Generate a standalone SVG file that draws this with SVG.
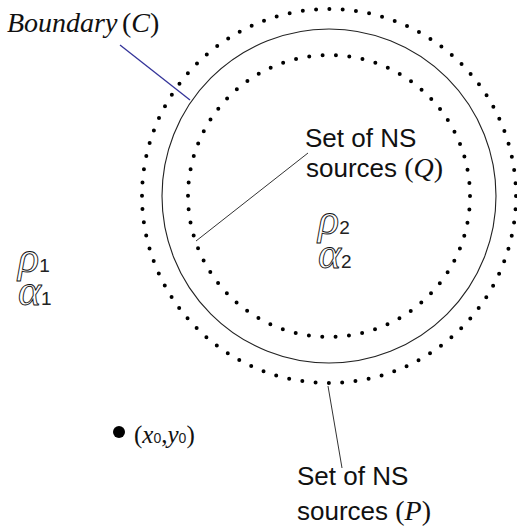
<svg xmlns="http://www.w3.org/2000/svg" width="517" height="531" viewBox="0 0 517 531">
<style>
.serif{font-family:"Liberation Serif","Times New Roman",serif;fill:#111}
.it{font-style:italic}
.sans{font-family:"Liberation Sans",Arial,sans-serif;fill:#111}
.greek{font-family:"Liberation Serif","Times New Roman",serif;font-style:italic;fill:none;stroke:#111;stroke-width:0.9}
.sub{font-family:"Liberation Sans",Arial,sans-serif;font-style:normal;fill:#222;stroke:none}
.dots{fill:none;stroke:#000;stroke-width:4;stroke-linecap:round}
.lead{fill:none;stroke:#333;stroke-width:1}
</style>
<rect width="517" height="531" fill="#fff"/>
<g id="outer-sources">
<circle class="dots" cx="329" cy="196" r="187" stroke-dasharray="0 13.352"/>
</g>
<g id="boundary">
<circle cx="329" cy="196" r="167" fill="none" stroke="#222" stroke-width="1.1"/>
</g>
<g id="inner-sources">
<circle class="dots" cx="329" cy="196" r="141" stroke-dasharray="0 13.423"/>
</g>
<g id="connectors">
<line x1="120" y1="45" x2="190" y2="100" stroke="#333399" stroke-width="1.3"/>
<line class="lead" x1="196" y1="241" x2="308" y2="153"/>
<line class="lead" x1="328" y1="386" x2="342" y2="468"/>
</g>
<g id="label-boundary">
<text class="serif it" x="7" y="32" font-size="28">Boundary<tspan x="122" font-style="normal">(</tspan>C<tspan font-style="normal">)</tspan></text>
</g>
<g id="label-q">
<text class="sans" x="305" y="147" font-size="26">Set of NS</text>
<text class="sans" x="306" y="177" font-size="26">sources <tspan class="serif" font-size="28">(</tspan><tspan class="serif it" font-size="28">Q</tspan><tspan class="serif" font-size="28">)</tspan></text>
</g>
<g id="label-p">
<text class="sans" x="297" y="485" font-size="26">Set of NS</text>
<text class="sans" x="297" y="520" font-size="26">sources <tspan class="serif" font-size="28">(</tspan><tspan class="serif it" font-size="28">P</tspan><tspan class="serif" font-size="28">)</tspan></text>
</g>
<g id="medium-1">
<text class="greek" x="18" y="272" font-size="44">ρ<tspan class="sub" font-size="19">1</tspan><tspan x="18" y="305">α</tspan><tspan class="sub" font-size="19">1</tspan></text>
</g>
<g id="medium-2">
<text class="greek" x="318" y="234" font-size="44">ρ<tspan class="sub" font-size="19">2</tspan><tspan x="318" y="268">α</tspan><tspan class="sub" font-size="19">2</tspan></text>
</g>
<g id="point">
<circle cx="119" cy="432" r="6" fill="#000"/>
<text class="serif" x="134" y="443" font-size="25">(<tspan class="it">x</tspan><tspan class="sub" font-size="14">0</tspan>,<tspan class="it">y</tspan><tspan class="sub" font-size="14">0</tspan>)</text>
</g>
</svg>
